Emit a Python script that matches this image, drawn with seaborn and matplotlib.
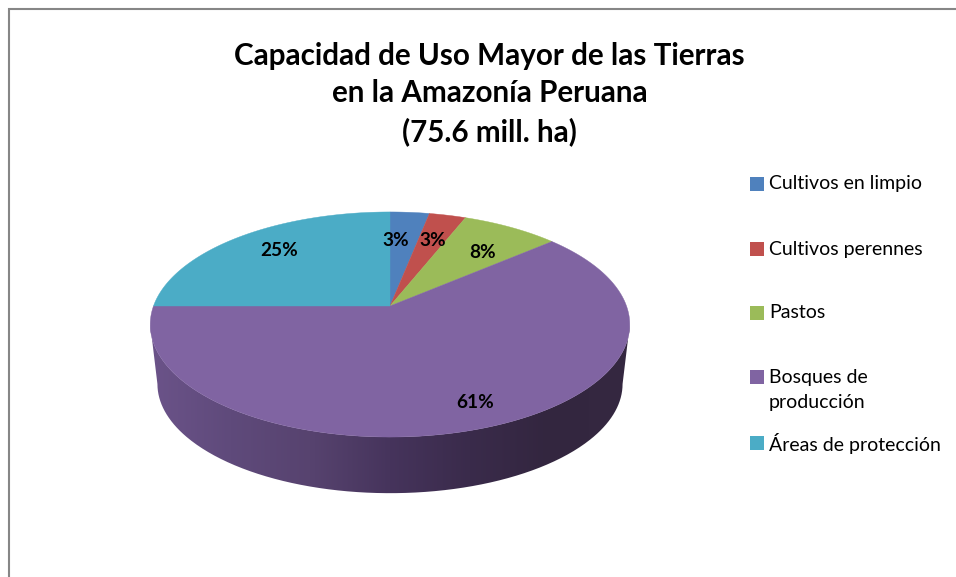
import numpy as np
import seaborn as sns
import matplotlib.pyplot as plt
from matplotlib.colors import LinearSegmentedColormap
from matplotlib.patches import PathPatch
from matplotlib.path import Path

# -------------------------------
# Data
# -------------------------------
title = "Capacidad de Uso Mayor de las Tierras\nen la Amazonía Peruana\n(75.6 mill. ha)"
categories = ["Cultivos en limpio", "Cultivos perennes", "Pastos", "Bosques de\nproducción", "Áreas de protección"]
values = [3.1, 2.9, 7.7, 61.3, 25.0]
pct_labels = ["3%", "3%", "8%", "61%", "25%"]
colors = ["#4F81BD", "#C0504D", "#9BBB59", "#8064A2", "#4BACC6"]
side_colors = ["#6B5389", "#5F4A7B", "#57436F", "#46345C", "#3A2B4B", "#33263F", "#352841"]

# -------------------------------
# Layout (pixels of the 956x577 figure)
# -------------------------------
center_x, center_y = 390, 306
half_w, half_h, persp = 236.5, 109.5, 0.1644
depth_shift, depth_scale = 59.5, 0.97
label_xy = [(396, 240), (433, 240), (483, 252), (475, 402), (279, 250)]
legend_y = [184, 249, 313, 377, 443]


def project(theta):
    # clockwise angle from the top of the disc, tilted with some perspective
    denom = 1 + persp * np.cos(theta)
    return center_x + half_w * np.sin(theta) / denom, center_y - half_h * np.cos(theta) / denom


sns.set_theme(style="white")
plt.rcParams['font.family'] = ['Lato', 'DejaVu Sans']

fig = plt.figure(figsize=(9.56, 5.77), dpi=100)
ax = fig.add_axes([0, 0, 1, 1])
ax.set_xlim(0, 956)
ax.set_ylim(577, 0)
ax.axis('off')

# frame of the chart, only left and top are inside the crop
ax.plot([9, 9, 956], [577, 9, 9], color="#868686", lw=1.5, solid_joinstyle='miter')

# -------------------------------
# Side of the disc
# -------------------------------
ell_cy = center_y + (half_h / (1 - persp) - half_h / (1 + persp)) / 2
ell_ry = (half_h / (1 - persp) + half_h / (1 + persp)) / 2
ell_rx = half_w / np.sqrt(1 - persp ** 2)
t = np.linspace(np.pi, 0, 300)
top_x = center_x + ell_rx * np.cos(t)
top_y = ell_cy + ell_ry * np.sin(t)
bot_x = center_x + depth_scale * ell_rx * np.cos(t)
bot_y = ell_cy + depth_shift + depth_scale * ell_ry * np.sin(t)
side_verts = np.vstack([np.column_stack([top_x, top_y]), np.column_stack([bot_x, bot_y])[::-1]])

side_cmap = LinearSegmentedColormap.from_list("side", sns.color_palette(side_colors))
side_clip = PathPatch(Path(np.vstack([side_verts, side_verts[:1]])), fc='none', ec='none')
ax.add_patch(side_clip)
grad = ax.imshow(np.linspace(0, 1, 256)[None, :], cmap=side_cmap, aspect='auto',
                 extent=[center_x - ell_rx, center_x + ell_rx, 500, 300], zorder=2)
grad.set_clip_path(side_clip)
ax.set_xlim(0, 956)
ax.set_ylim(577, 0)

# -------------------------------
# Top of the disc
# -------------------------------
edges = np.cumsum([0] + values) / np.sum(values) * 2 * np.pi
palette = sns.color_palette(colors)
for i in range(len(values)):
    th = np.linspace(edges[i], edges[i + 1], 200)
    xs, ys = project(th)
    ax.fill(np.r_[center_x, xs], np.r_[center_y, ys], color=palette[i], lw=0.3, zorder=3)

for lab, (lx, ly) in zip(pct_labels, label_xy):
    ax.text(lx, ly, lab, ha='center', va='center', fontsize=13.7, fontweight='bold', color='black', zorder=4)

# -------------------------------
# Title and legend
# -------------------------------
ax.text(489.5, 94, title, ha='center', va='center', fontsize=21.3, fontweight='bold',
        color='black', linespacing=1.42)

for cat, col, ly in zip(categories, palette, legend_y):
    ax.scatter([757.5], [ly], marker='s', s=90, color=col, lw=0, zorder=4)
    n_lines = cat.count("\n")
    ax.text(769, ly + n_lines * 13, cat, ha='left', va='center', fontsize=14, color='black', linespacing=1.55)

plt.savefig("out.png", dpi=100)
plt.close()
